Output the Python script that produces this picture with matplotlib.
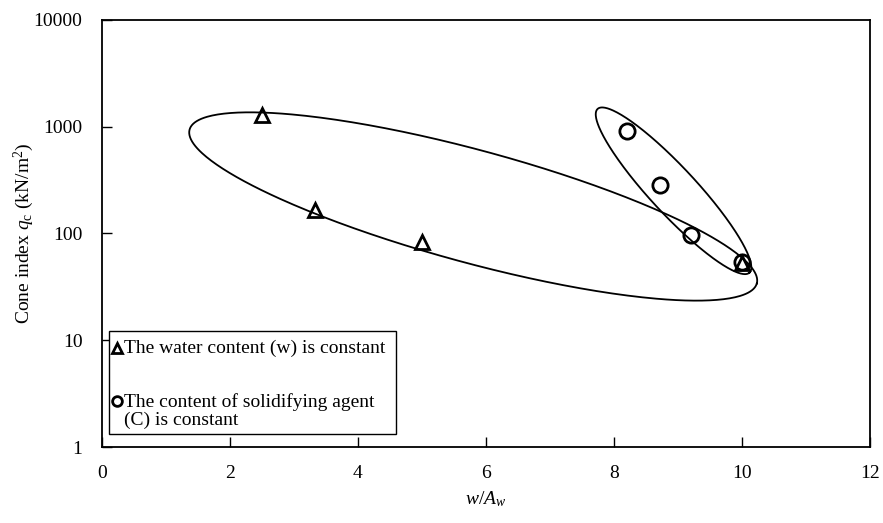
# Cone index against w/A_w on a log scale, with two groups of test results
# each enclosed by a hand-drawn style ellipse.
import numpy as np
import matplotlib.pyplot as plt
from matplotlib.patches import Rectangle

plt.rcParams['font.family'] = ['Liberation Serif', 'DejaVu Serif']
plt.rcParams['mathtext.fontset'] = 'custom'
plt.rcParams['mathtext.rm'] = 'Liberation Serif'
plt.rcParams['mathtext.it'] = 'Liberation Serif:italic'
plt.rcParams['font.size'] = 14

# water content constant (triangles)
w_ratio = [2.5, 3.33, 5.0, 10.0]
w_qc = [1300, 166, 83, 53]

# solidifying agent content constant (circles)
c_ratio = [8.2, 8.72, 9.2, 10.0]
c_qc = [910, 285, 97, 54]

fig = plt.figure(figsize=(8.83, 5.23), dpi=100)
ax = fig.add_axes([0.1155, 0.1453, 0.8698, 0.8165])


def draw_ellipse(ax, cx, cy, a, b, angle):
    # ellipse drawn in (x, k*log10(y)) space so it looks right on the log axis
    k = 1.66
    t = np.linspace(0, 2 * np.pi, 400)
    th = np.radians(angle)
    u = a * np.cos(t) * np.cos(th) - b * np.sin(t) * np.sin(th)
    v = a * np.cos(t) * np.sin(th) + b * np.sin(t) * np.cos(th)
    ax.plot(cx + u, 10 ** (cy + v / k), color='black', linewidth=1.3, zorder=1)


draw_ellipse(ax, 5.80, 2.253, 4.59, 0.875, -15.1)
draw_ellipse(ax, 8.93, 2.40, 1.74, 0.36, -47)

ax.plot(w_ratio, w_qc, linestyle='none', marker='^', markersize=9.5,
        markerfacecolor='none', markeredgecolor='black', markeredgewidth=2, zorder=3)
ax.plot(c_ratio, c_qc, linestyle='none', marker='o', markersize=11,
        markerfacecolor='none', markeredgecolor='black', markeredgewidth=2, zorder=3)

ax.set_yscale('log')
ax.set_xlim(0, 12)
ax.set_ylim(1, 10000)
ax.set_xticks([0, 2, 4, 6, 8, 10, 12])
ax.set_yticks([1, 10, 100, 1000, 10000])
ax.set_yticklabels(['1', '10', '100', '1000', '10000'])
ax.minorticks_off()
ax.tick_params(direction='in', length=7, width=1, labelsize=14)
ax.tick_params(axis='y', pad=14)
ax.tick_params(axis='x', pad=13)
for s in ax.spines.values():
    s.set_linewidth(1.3)

ax.set_xlabel(r'$w/A_w$', fontsize=14, labelpad=5)
ax.set_ylabel(r'Cone index $q_{\rm c}$ (kN/m$^2$)', fontsize=14, labelpad=-2)

# legend box drawn by hand so the circle sits on the first text line
ax.add_patch(Rectangle((0.009, 0.030), 0.374, 0.242, transform=ax.transAxes,
                       facecolor='white', edgecolor='black', linewidth=1, zorder=4))
ax.plot([0.019], [0.232], transform=ax.transAxes, linestyle='none', marker='^',
        markersize=7, markerfacecolor='none', markeredgecolor='black',
        markeredgewidth=2, zorder=5, clip_on=False)
ax.plot([0.019], [0.107], transform=ax.transAxes, linestyle='none', marker='o',
        markersize=7, markerfacecolor='none', markeredgecolor='black',
        markeredgewidth=2, zorder=5, clip_on=False)
ax.text(0.029, 0.232, 'The water content (w) is constant', transform=ax.transAxes,
        ha='left', va='center', fontsize=14, zorder=5)
ax.text(0.029, 0.105, 'The content of solidifying agent', transform=ax.transAxes,
        ha='left', va='center', fontsize=14, zorder=5)
ax.text(0.029, 0.063, '(C) is constant', transform=ax.transAxes,
        ha='left', va='center', fontsize=14, zorder=5)

plt.savefig('out.png', dpi=100)
